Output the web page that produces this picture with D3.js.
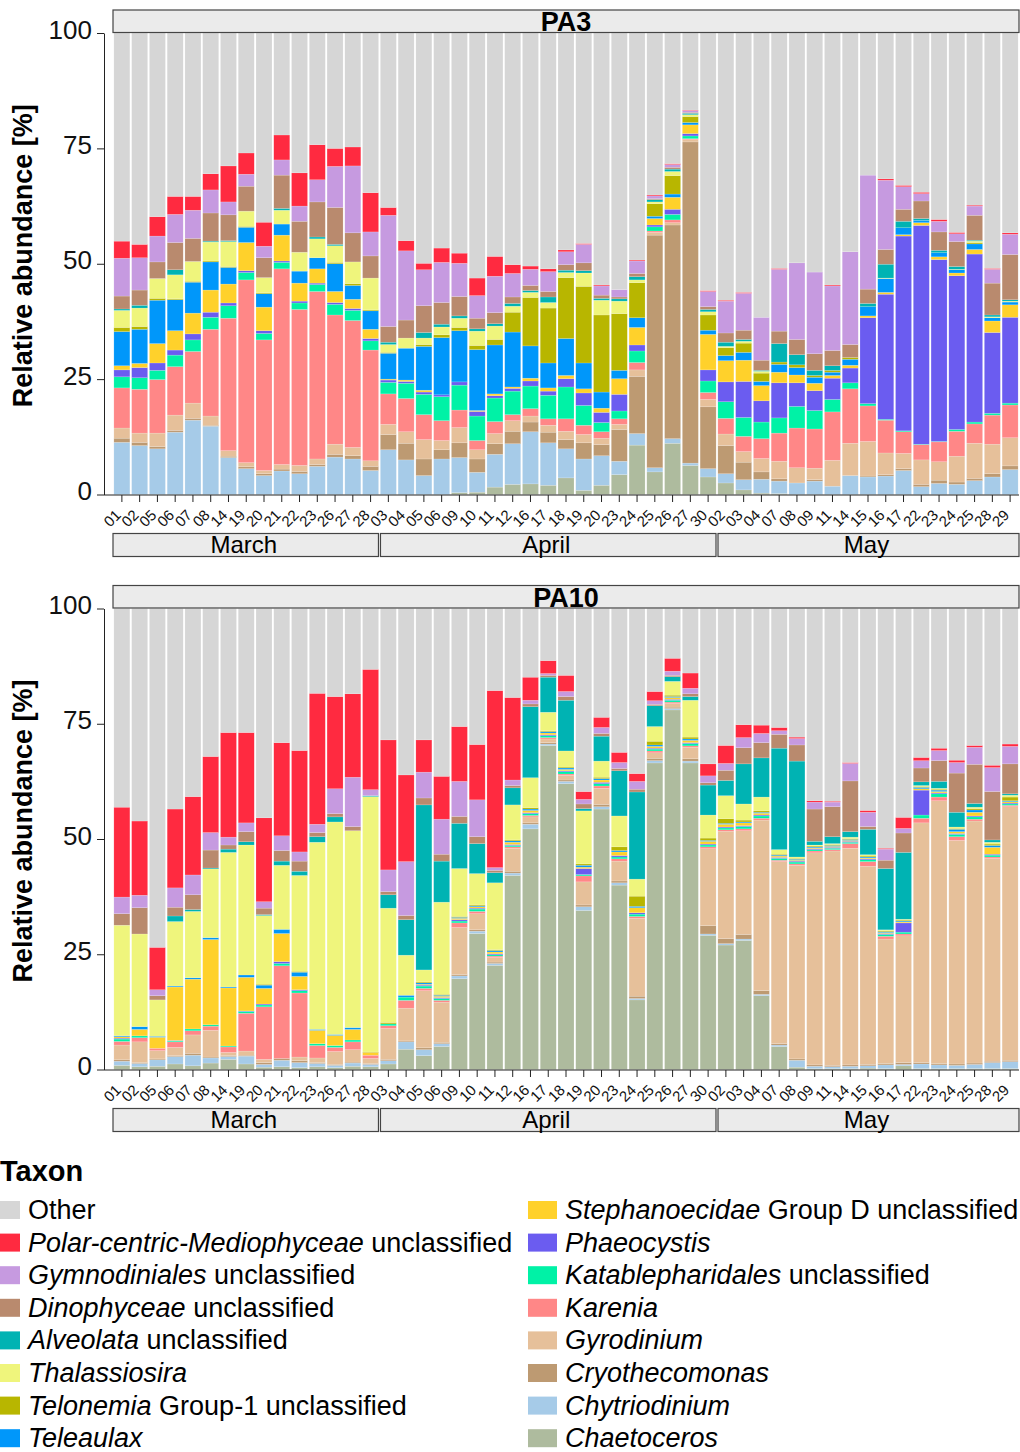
<!DOCTYPE html>
<html>
<head>
<meta charset="utf-8">
<script src="https://cdn.jsdelivr.net/npm/d3@7"></script>
<style>
  body { margin: 0; background: #fff; }
  svg { display: block; font-family: "Liberation Sans", Arial, sans-serif; }
  text { white-space: pre; }
</style>
</head>
<body>
<svg id="chart" width="1020" height="1452"></svg>
<script>
// stack order, bottom -> top (Other is the remainder up to 100 %)
const taxa = ["Chaetoceros", "Chytriodinium", "Cryothecomonas", "Gyrodinium", "Karenia",
  "Katablepharidales", "Phaeocystis", "Stephanoecidae", "Teleaulax", "Telonemia",
  "Thalassiosira", "Alveolata", "Dinophyceae", "Gymnodiniales", "Polar-centric", "Other"];
const taxonColors = ["#aebb9e", "#a6cbe8", "#bd9a72", "#e6c09a", "#ff8787",
  "#00f2a6", "#6b5cf0", "#ffd12b", "#0097fa", "#b8b600",
  "#eff57c", "#00b3b3", "#b98a6e", "#c69ae0", "#ff2a40", "#d6d6d6"];

const months = ["March", "April", "May"];
const marchDays = ["01","02","05","06","07","08","14","19","20","21","22","23","26","27","28"];
const aprilDays = ["03","04","05","06","09","10","11","12","16","17","18","19","20","23","24","25","26","27","30"];
const mayDays = ["02","03","04","07","08","09","11","14","15","16","17","22","23","24","25","28","29"];

// relative abundance [%] per sample, columns in stack order (without Other)
const pa3Rows = [
  [0, 11.3, 0.9, 2.2, 8.7, 2.4, 1.5, 0.9, 7.4, 0.9, 3.7, 0.3, 2.8, 8.2, 3.7],
  [0, 10.6, 0.7, 2.0, 9.5, 2.5, 2.2, 0.9, 7.4, 0.6, 4.0, 0.6, 3.3, 7.0, 2.9],
  [0, 9.9, 0.5, 2.9, 11.6, 2.0, 1.6, 4.2, 9.4, 0.4, 4.3, 0, 3.6, 5.6, 4.2],
  [0, 13.5, 0.4, 3.3, 10.5, 2.5, 1.1, 4.2, 6.7, 0.2, 5.2, 1.1, 5.9, 6.1, 3.9],
  [0, 16.1, 0.4, 3.3, 11.2, 2.5, 1.3, 4.5, 6.7, 0.2, 4.3, 0, 5.0, 6.1, 3.0],
  [0, 14.8, 0.2, 2.0, 18.8, 2.6, 1.1, 4.8, 6.1, 0.2, 4.1, 0.2, 6.1, 5.0, 3.5],
  [0, 8.0, 0.3, 1.2, 28.7, 2.7, 0.6, 4.1, 3.6, 0.2, 5.4, 0.2, 5.6, 2.8, 7.8],
  [0, 5.6, 0.4, 0.9, 39.6, 1.6, 0.4, 6.1, 3.3, 0.2, 3.3, 0, 5.4, 2.6, 4.6],
  [0, 4.1, 0.4, 0.7, 28.3, 1.4, 0.6, 5.1, 2.9, 0.2, 3.3, 0, 4.3, 2.5, 5.2],
  [0, 5.1, 0.4, 1.0, 42.4, 1.4, 0.3, 5.6, 2.4, 0, 3.0, 0.4, 7.2, 3.3, 5.4],
  [0, 4.5, 0.5, 1.3, 33.8, 1.4, 0.4, 3.9, 2.6, 0, 4.1, 0, 6.7, 3.3, 7.2],
  [0, 6.1, 0.4, 1.2, 36.3, 1.5, 0.3, 3.1, 2.4, 0, 4.1, 0.4, 7.6, 4.8, 7.6],
  [0, 8.1, 0.6, 2.2, 28.0, 2.3, 0.4, 2.4, 6.0, 0.3, 3.6, 0.3, 8.0, 8.9, 3.9],
  [0, 7.7, 0.7, 1.8, 27.5, 2.2, 0.4, 2.0, 3.0, 0.4, 4.7, 0, 6.3, 14.5, 4.1],
  [0, 5.2, 0.9, 1.2, 24.0, 2.0, 0.5, 2.0, 4.0, 0.2, 6.9, 0, 4.8, 5.2, 8.5],
  [0, 9.7, 3.3, 2.2, 6.6, 2.5, 0.5, 0.2, 5.6, 0.2, 1.7, 0.5, 3.4, 24.1, 1.7],
  [0, 7.5, 3.6, 2.5, 7.2, 3.3, 0.4, 0.3, 6.9, 0, 2.2, 0, 3.9, 15.0, 2.2],
  [0, 4.1, 3.6, 4.2, 5.4, 4.4, 0.5, 0.4, 9.5, 0.4, 1.4, 1.2, 5.8, 7.8, 1.4],
  [0, 7.7, 2.0, 2.0, 4.3, 5.2, 0.4, 0, 12.4, 0.6, 1.7, 0.6, 4.7, 8.7, 3.1],
  [0.4, 7.6, 3.2, 3.3, 3.8, 5.4, 0.7, 0, 11.1, 0.7, 2.0, 0.5, 4.2, 7.2, 2.2],
  [0.5, 4.3, 2.9, 2.0, 2.0, 5.3, 1.0, 0.2, 13.2, 0.9, 3.1, 0.5, 2.3, 4.9, 3.8],
  [1.6, 7.1, 2.3, 2.2, 2.6, 5.1, 0.5, 0.4, 10.6, 1.2, 2.9, 0.5, 2.4, 7.9, 4.3],
  [2.2, 8.8, 2.7, 2.3, 1.3, 5.1, 0.6, 0.3, 11.9, 4.3, 1.3, 0.6, 1.4, 5.1, 1.9],
  [2.3, 11.3, 2.1, 1.3, 1.6, 4.9, 1.1, 0.6, 7.0, 10.5, 1.1, 0.4, 1.1, 3.5, 0.7],
  [2.0, 9.2, 2.3, 1.5, 1.4, 5.1, 0.9, 0.7, 5.4, 11.9, 1.2, 1.2, 1.2, 4.3, 0.6],
  [3.6, 6.3, 2.0, 1.8, 2.7, 6.9, 1.8, 0.7, 8.0, 13.2, 1.1, 0.5, 1.2, 2.8, 0.4],
  [0.9, 6.8, 3.5, 1.8, 2.0, 4.3, 2.7, 0.9, 5.6, 16.6, 2.9, 0.5, 1.7, 4.0, 0.2],
  [2.0, 6.4, 2.4, 1.4, 1.4, 2.0, 2.2, 0.9, 3.5, 16.7, 3.2, 0.4, 0.7, 2.0, 0.2],
  [4.3, 2.9, 6.9, 1.1, 1.2, 1.7, 3.6, 3.4, 1.8, 12.3, 2.7, 0.5, 0.4, 1.6, 0],
  [10.7, 2.5, 12.4, 1.4, 1.6, 2.5, 1.3, 3.8, 2.1, 7.6, 0.6, 0.7, 0.7, 2.7, 0.2],
  [4.9, 0.9, 50.4, 0.6, 0.3, 0.9, 0.4, 1.4, 0.5, 2.7, 0.4, 0.5, 0.2, 0.6, 0.2],
  [11.1, 1.0, 46.3, 0.5, 0.6, 1.2, 1.1, 2.6, 0.7, 4.0, 0.9, 0.5, 0.4, 0.6, 0.2],
  [6.3, 0.5, 69.6, 0.5, 0.2, 0.6, 0.5, 1.9, 0.5, 1.3, 0.4, 0.3, 0.2, 0.4, 0.1],
  [3.8, 1.8, 13.4, 1.6, 1.5, 2.5, 2.4, 7.7, 0.9, 3.3, 0.7, 0.5, 0.6, 3.3, 0.2],
  [2.5, 2.0, 6.1, 2.5, 3.4, 3.6, 4.3, 4.6, 1.1, 1.7, 0.3, 0.9, 2.0, 6.9, 0.2],
  [1.0, 2.2, 3.8, 2.3, 3.3, 4.1, 7.8, 4.6, 1.7, 2.0, 0.4, 0.4, 2.0, 8.0, 0.2],
  [0.3, 3.0, 1.6, 2.9, 4.3, 3.6, 4.6, 3.3, 0.9, 1.8, 0.4, 0.2, 2.2, 9.3, 0],
  [0.2, 2.7, 0.5, 3.8, 6.1, 3.3, 7.6, 2.3, 1.7, 0.5, 0, 4.0, 2.7, 13.4, 0.2],
  [0, 2.5, 0, 3.3, 8.6, 4.7, 5.1, 1.7, 1.6, 0.6, 0, 2.2, 3.3, 16.6, 0],
  [0, 2.9, 0.3, 2.5, 8.5, 4.0, 4.3, 1.6, 1.3, 0.4, 0, 1.1, 3.6, 17.7, 0],
  [0, 1.8, 0, 5.6, 10.5, 2.7, 4.6, 0.6, 0.7, 0.4, 0, 1.0, 3.3, 14.0, 0.2],
  [0, 4.1, 0, 7.0, 11.8, 1.3, 3.2, 0.6, 1.3, 0.4, 0, 0, 2.8, 20.1, 0],
  [0, 3.8, 0.2, 7.5, 7.7, 0.5, 18.6, 0.4, 2.0, 0, 0, 0.7, 3.1, 24.7, 0],
  [0, 4.0, 0.3, 4.7, 7.1, 0.2, 27.1, 0.4, 3.0, 0, 0.1, 3.0, 3.2, 15.0, 0.3],
  [0, 5.2, 0.4, 3.3, 4.7, 0.2, 42.2, 0.3, 1.5, 0, 0, 1.4, 2.6, 4.9, 0.3],
  [0, 1.7, 0.5, 5.3, 3.3, 0.1, 47.4, 0.6, 0.5, 0, 0, 0.4, 3.8, 1.6, 0.3],
  [0, 2.4, 0.7, 4.0, 4.3, 0.1, 39.4, 0.6, 0.9, 0, 0, 0.5, 4.0, 2.3, 0.4],
  [0, 2.2, 0.5, 5.6, 5.4, 0.4, 33.3, 0.6, 0.7, 0, 0.1, 0.6, 5.4, 1.7, 0.3],
  [0, 3.0, 0.5, 7.6, 4.2, 0.4, 36.4, 1.0, 1.2, 0.3, 0.3, 0.2, 5.4, 2.0, 0.2],
  [0, 3.8, 0.7, 6.4, 6.3, 0.4, 17.5, 2.5, 0.7, 0, 0.2, 0.4, 6.9, 3.0, 0.2],
  [0, 5.4, 0.8, 6.1, 7.1, 0.4, 18.6, 2.7, 0.6, 0, 0.2, 0.3, 9.8, 4.4, 0.3]
];

const pa10Rows = [
  [0.9, 0.9, 0.3, 3.2, 0.8, 0.5, 0.2, 0.3, 0.2, 0, 24.0, 0, 2.5, 3.6, 19.5],
  [0.6, 0.7, 0.2, 4.5, 0.9, 0.4, 0, 1.4, 0.6, 0, 20.1, 0, 5.7, 2.7, 16.1],
  [0.7, 1.4, 0.2, 1.8, 0.5, 0, 0, 2.4, 0.2, 0, 7.9, 0, 0.9, 1.3, 9.2],
  [1.2, 1.6, 0.2, 1.8, 1.2, 0.2, 0.1, 11.6, 0.2, 0, 14.0, 1.2, 1.9, 4.2, 17.1],
  [0.8, 2.3, 0.4, 4.0, 0.9, 0.4, 0, 10.8, 0.3, 0, 14.4, 0.4, 3.2, 4.3, 17.0],
  [1.4, 1.1, 0.2, 5.8, 0.9, 0.3, 0, 18.5, 0.4, 0, 14.9, 0.2, 3.9, 3.8, 16.5],
  [2.2, 0.6, 0.2, 0.7, 1.2, 0.2, 0, 12.6, 0.2, 0, 29.2, 0.7, 0.9, 1.7, 22.7],
  [1.2, 1.7, 0.2, 0.9, 8.2, 0.4, 0.1, 7.3, 0.5, 0, 28.2, 0.7, 2.2, 1.9, 19.6],
  [0.5, 0.6, 0.4, 0.7, 11.4, 0.4, 0.2, 3.4, 0.7, 0.2, 14.9, 0.2, 1.4, 1.4, 18.2],
  [0.6, 1.4, 0.4, 0, 20.1, 0.5, 0.4, 6.1, 0.9, 0, 13.9, 0.9, 2.3, 3.2, 20.2],
  [0.4, 1.1, 0.4, 0.8, 13.9, 0.5, 0.2, 2.9, 0.9, 0.2, 20.8, 0.9, 2.2, 2.0, 22.0],
  [0.6, 0.7, 0.2, 1.0, 2.7, 0.4, 0, 2.9, 0.2, 0, 40.6, 1.2, 0.9, 1.8, 28.4],
  [0.4, 0.5, 0.2, 2.8, 0.9, 0.4, 0, 2.2, 0.2, 0, 46.1, 1.1, 0.7, 5.4, 20.0],
  [0.7, 0.7, 0.2, 2.7, 1.7, 0.4, 0, 2.3, 0.4, 0, 42.7, 0, 0.9, 10.7, 18.1],
  [0.6, 0.5, 0.2, 1.1, 0.7, 0, 0, 0.6, 0, 0.1, 55.4, 0.2, 0, 1.3, 26.1],
  [1.2, 0.7, 0.3, 6.7, 0.6, 0.4, 0, 0, 0, 0.3, 24.8, 2.9, 0.7, 4.7, 28.2],
  [4.4, 1.6, 0.2, 7.1, 1.7, 0.7, 0, 0, 0.4, 0, 8.7, 7.7, 0.9, 11.7, 18.8],
  [3.0, 1.3, 0.4, 12.4, 0.5, 0.5, 0.2, 0.2, 0.3, 0.2, 2.6, 35.8, 1.5, 5.6, 7.0],
  [5.0, 0.6, 0.3, 8.7, 0.4, 0.4, 0.2, 0.3, 0.2, 0.2, 20.0, 8.9, 1.5, 7.6, 9.3],
  [19.7, 0.6, 0.3, 10.2, 1.0, 0.4, 0.3, 0.3, 0.2, 0.2, 10.4, 9.8, 1.5, 7.6, 11.9],
  [29.5, 0.5, 0.3, 3.5, 0.5, 0.5, 0.2, 0.3, 0.2, 0.2, 6.8, 6.5, 1.5, 8.0, 12.0],
  [22.6, 0.4, 0.3, 1.0, 0.3, 0.3, 0.2, 0.4, 0.3, 0.2, 14.5, 2.2, 0.5, 0.6, 38.4],
  [42.1, 0.5, 0.4, 5.0, 0.3, 0.3, 0.2, 0.5, 0.3, 0.2, 7.6, 3.7, 0.5, 1.2, 17.9],
  [52.2, 1.0, 0.3, 1.3, 0.3, 0.4, 0.2, 0.5, 0.3, 0.3, 6.5, 15.4, 0.6, 0.8, 5.0],
  [70.3, 0.3, 0.3, 0.8, 0.3, 0.4, 0.2, 0.4, 0.3, 0.2, 4.0, 7.6, 0.4, 0.4, 2.8],
  [62.0, 0.5, 0.3, 1.0, 0.3, 0.5, 0.2, 0.3, 0.3, 0.2, 3.5, 11.0, 0.8, 1.1, 3.5],
  [34.5, 0.8, 0.4, 5.0, 1.3, 0.3, 1.3, 0.3, 0.4, 0.3, 11.5, 0.5, 1.0, 1.0, 1.7],
  [56.5, 0.5, 0.5, 3.5, 0.5, 0.5, 0.3, 0.5, 0.3, 0.3, 3.5, 5.4, 0.6, 1.3, 2.2],
  [40.0, 0.5, 0.4, 4.3, 0.5, 0.4, 0.3, 0.8, 0.3, 0.8, 6.7, 9.8, 0.5, 1.3, 2.2],
  [15.1, 0.3, 0.5, 16.9, 0.4, 0.5, 0.3, 1.1, 0.3, 2.2, 3.7, 18.9, 0.6, 1.7, 1.7],
  [66.5, 0.5, 0.5, 1.2, 0.4, 0.4, 0.2, 0.4, 0.3, 0.8, 3.2, 4.5, 0.3, 0.8, 2.0],
  [78.0, 0.3, 0.3, 0.8, 0.3, 0.4, 0.2, 0.4, 0.2, 0.3, 3.0, 1.0, 0.3, 0.9, 2.8],
  [66.5, 0.4, 0.5, 2.5, 0.3, 0.5, 0.2, 0.5, 0.3, 0.4, 8.0, 0.8, 0.6, 1.2, 3.3],
  [29.1, 0.3, 1.8, 16.7, 0.4, 0.4, 0.2, 0.6, 0.2, 0.5, 5.0, 6.5, 0.5, 1.5, 2.6],
  [27.0, 0.3, 1.1, 23.3, 0.3, 0.4, 0.2, 0.6, 0.2, 1.0, 5.0, 3.3, 2.2, 1.5, 3.9],
  [28.0, 0.3, 1.0, 22.5, 0.4, 0.5, 0.2, 0.6, 0.2, 0.4, 3.5, 8.7, 3.5, 2.2, 2.8],
  [16.0, 0.3, 0.8, 37.0, 0.4, 0.5, 0.2, 0.4, 0.2, 0.3, 3.0, 8.5, 3.3, 2.0, 1.8],
  [5.0, 0.3, 0.3, 39.5, 0.3, 0.4, 0.2, 0.3, 0.2, 0.2, 1.0, 22.0, 3.0, 0.8, 0.7],
  [0.5, 1.5, 0.3, 42.0, 0.3, 0.4, 0.2, 0.2, 0.2, 0.2, 0.3, 20.8, 3.5, 1.4, 0.3],
  [0.2, 0.5, 0.3, 46.0, 0.4, 0.3, 0.2, 0.2, 0.2, 0.2, 0.2, 0.8, 7.0, 1.5, 0.3],
  [0.2, 0.4, 0.3, 46.5, 0.3, 0.3, 0.2, 0.2, 0.2, 0.2, 0.2, 1.5, 6.5, 1.0, 0.2],
  [0.2, 0.5, 0.3, 47.0, 1.0, 0.3, 0.2, 0.2, 0.2, 0.2, 0.3, 1.2, 11.0, 3.8, 0.2],
  [0.3, 0.5, 0.3, 43.0, 1.0, 0.4, 0.2, 0.2, 0.2, 0.2, 0.3, 5.5, 0.6, 3.1, 0.4],
  [0.2, 0.8, 0.3, 27.0, 0.6, 0.4, 0.2, 0.2, 0.2, 0.2, 0.2, 13.3, 1.8, 2.4, 0.2],
  [0.8, 0.3, 0.4, 27.5, 0.4, 0.4, 2.0, 0.2, 0.2, 0.2, 0.2, 14.5, 4.2, 1.0, 2.4],
  [0.2, 1.0, 0.3, 52.0, 1.0, 0.7, 5.4, 0.3, 0.3, 0.2, 0.2, 0.8, 3.0, 1.6, 0.7],
  [0.2, 0.8, 0.3, 57.0, 0.8, 0.7, 0.2, 0.3, 0.3, 0.2, 0.2, 1.5, 4.5, 2.2, 0.5],
  [0.2, 0.7, 0.3, 48.5, 0.8, 0.5, 0.2, 0.4, 0.5, 0.2, 0.3, 3.2, 8.5, 2.3, 0.5],
  [0.2, 0.9, 0.3, 52.5, 0.4, 0.5, 0.2, 0.8, 0.5, 0.3, 0.3, 0.8, 8.5, 3.7, 0.4],
  [0.2, 1.3, 0.3, 44.0, 0.3, 0.4, 0.2, 1.5, 0.4, 0.3, 0.4, 0.5, 10.5, 5.2, 0.5],
  [0.2, 1.5, 0.3, 55.0, 0.3, 0.3, 0.2, 0.3, 0.2, 0.8, 0.4, 0.3, 6.5, 3.8, 0.5]
];

// legend in reading order: italic part, plain part, colour index into taxa
const legendItalic = ["", "Polar-centric-Mediophyceae", "Gymnodiniales", "Dinophyceae", "Alveolata",
  "Thalassiosira", "Telonemia", "Teleaulax", "Stephanoecidae", "Phaeocystis", "Katablepharidales",
  "Karenia", "Gyrodinium", "Cryothecomonas", "Chytriodinium", "Chaetoceros"];
const legendPlain = ["Other", " unclassified", " unclassified", " unclassified", " unclassified",
  "", " Group-1 unclassified", "", " Group D unclassified", "", " unclassified",
  "", "", "", "", ""];
const legendTaxon = [15, 14, 13, 12, 11, 10, 9, 8, 7, 6, 5, 4, 3, 2, 1, 0];

const svg = d3.select("#chart");

// sample ids in time order, with month of each
const monthDayLists = [marchDays, aprilDays, mayDays];
const samples = [];
monthDayLists.forEach((list, m) => list.forEach((d) => samples.push({ id: months[m] + "-" + d, day: d, month: m })));

const x = d3.scaleBand()
  .domain(samples.map((s) => s.id))
  .range([113, 1019])
  .paddingInner(0.1)
  .paddingOuter(0.05);

function drawPanel(name, rows, top, bottom) {
  const g = svg.append("g").attr("class", "panel");
  const y = d3.scaleLinear().domain([0, 100]).range([bottom, top]);

  const table = rows.map((r, i) => {
    const o = { id: samples[i].id };
    taxa.forEach((t, j) => {
      o[t] = j < r.length ? r[j] : Math.max(0, 100 - d3.sum(r));
    });
    return o;
  });

  const series = d3.stack().keys(taxa)(table);

  g.selectAll("g.layer")
    .data(series)
    .join("g")
    .attr("class", "layer")
    .attr("fill", (s, i) => taxonColors[i])
    .selectAll("rect")
    .data((s) => s)
    .join("rect")
    .attr("x", (d) => x(d.data.id))
    .attr("y", (d) => y(d[1]))
    .attr("width", x.bandwidth())
    .attr("height", (d) => Math.max(0, y(d[0]) - y(d[1])))
    .attr("stroke", "#fff")
    .attr("stroke-opacity", 0.3)
    .attr("stroke-width", 0.5);

  // top strip
  g.append("rect")
    .attr("x", 113).attr("y", top - 23)
    .attr("width", 906).attr("height", 22.5)
    .attr("fill", "#ebebeb").attr("stroke", "#444").attr("stroke-width", 1.2);
  g.append("text")
    .attr("x", 566).attr("y", top - 2)
    .attr("text-anchor", "middle")
    .style("font-size", "27px").style("font-weight", "bold")
    .text(name);

  // y axis
  const yAxis = g.append("g")
    .attr("transform", "translate(104,0)")
    .call(d3.axisLeft(y).tickValues([0, 25, 50, 75, 100]).tickSize(7).tickSizeOuter(0).tickPadding(5));
  yAxis.select(".domain").attr("stroke", "#222");
  yAxis.selectAll(".tick line").attr("stroke", "#222");
  yAxis.selectAll("text")
    .attr("dy", "0.2em")
    .style("font-size", "26px").attr("fill", "#111");

  g.append("text")
    .attr("transform", `translate(32,${(top + bottom) / 2 - 8}) rotate(-90)`)
    .attr("text-anchor", "middle")
    .style("font-size", "27px").style("font-weight", "bold")
    .text("Relative abundance [%]");

  // x axis
  g.append("line")
    .attr("x1", 104).attr("x2", 1019)
    .attr("y1", bottom + 0.5).attr("y2", bottom + 0.5)
    .attr("stroke", "#222");
  const xAxis = g.append("g")
    .attr("transform", `translate(0,${bottom + 0.5})`)
    .call(d3.axisBottom(x).tickSize(7).tickSizeOuter(0).tickFormat((id) => id.slice(-2)));
  xAxis.select(".domain").remove();
  xAxis.selectAll(".tick line").attr("stroke", "#222");
  xAxis.selectAll("text")
    .attr("x", 0).attr("y", 0).attr("dy", 0)
    .attr("transform", "translate(0,21) rotate(-45)")
    .style("text-anchor", "end")
    .style("font-size", "15px")
    .attr("fill", "#111");

  // month strips
  months.forEach((m, mi) => {
    const ids = samples.filter((s) => s.month === mi).map((s) => s.id);
    const step = x.step();
    const x0 = mi === 0 ? 113 : x(ids[0]) - (step - x.bandwidth()) / 2 + 1;
    const x1 = mi === months.length - 1 ? 1019 : x(ids[ids.length - 1]) + x.bandwidth() + (step - x.bandwidth()) / 2 - 1;
    g.append("rect")
      .attr("x", x0).attr("y", bottom + 39)
      .attr("width", x1 - x0).attr("height", 23)
      .attr("fill", "#ebebeb").attr("stroke", "#444").attr("stroke-width", 1.2);
    g.append("text")
      .attr("x", (x0 + x1) / 2 - 2).attr("y", bottom + 58.5)
      .attr("text-anchor", "middle")
      .style("font-size", "24px")
      .text(m);
  });
}

drawPanel("PA3", pa3Rows, 33, 494.5);
drawPanel("PA10", pa10Rows, 608.5, 1069.5);

// legend
const legend = svg.append("g").attr("class", "legend");
legend.append("text")
  .attr("x", 0).attr("y", 1181)
  .style("font-size", "29px").style("font-weight", "bold")
  .text("Taxon");

const item = legend.selectAll("g.item")
  .data(legendTaxon)
  .join("g")
  .attr("class", "item")
  .attr("transform", (t, i) => `translate(${i < 8 ? 0 : 528},${1210 + (i % 8) * 32.6})`);

item.append("rect")
  .attr("x", (t, i) => (i < 8 ? -9 : 0))
  .attr("y", -9)
  .attr("width", 29)
  .attr("height", 18)
  .attr("fill", (t) => taxonColors[t]);

const label = item.append("text")
  .attr("x", (t, i) => (i < 8 ? 28 : 37))
  .attr("y", 9)
  .style("font-size", "27px");
label.append("tspan")
  .style("font-style", "italic")
  .text((t, i) => legendItalic[i]);
label.append("tspan")
  .text((t, i) => legendPlain[i]);
</script>
</body>
</html>
